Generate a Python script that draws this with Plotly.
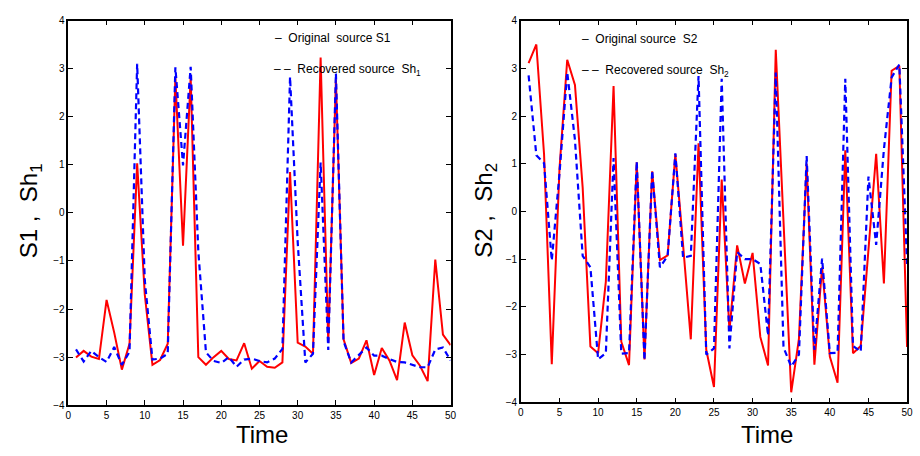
import plotly.graph_objects as go

t = list(range(1, 51))

s1 = [-3.01, -2.87, -2.99, -3.04, -1.81, -2.49, -3.26, -2.72, 1.03, -1.7,
      -3.16, -3.06, -2.72, 2.81, -0.68, 2.83, -3.0, -3.16, -3.0, -2.87,
      -3.04, -3.07, -2.71, -3.24, -3.08, -3.2, -3.22, -3.11, 0.85, -2.7,
      -2.78, -2.93, 3.23, -2.7, 2.78, -2.63, -3.12, -3.03, -2.65, -3.37,
      -2.81, -3.07, -3.48, -2.28, -2.96, -3.18, -3.5, -0.97, -2.53, -2.75]

sh1 = [-2.84, -3.09, -2.87, -3.0, -3.1, -2.79, -3.16, -2.89, 3.1, -1.4,
       -3.05, -3.03, -2.93, 3.03, 0.99, 3.04, -0.8, -2.9, -3.08, -3.12,
       -3.0, -3.2, -3.05, -3.03, -3.08, -3.11, -3.03, -2.83, 2.83, -0.6,
       -3.11, -2.93, 1.05, -2.85, 2.9, -2.67, -3.11, -2.96, -2.8, -2.97,
       -2.97, -3.04, -3.1, -3.11, -3.16, -3.21, -3.21, -2.84, -2.8, -3.07]

s2 = [3.11, 3.5, 1.2, -3.2, 0.9, 3.18, 2.65, 0.5, -2.83, -2.97,
      -1.47, 2.63, -2.73, -3.22, 1.03, -3.1, 0.84, -1.02, -0.92, 1.2,
      -0.7, -2.68, 1.43, -2.9, -3.68, 0.67, -2.5, -0.71, -1.51, -0.87,
      -2.63, -3.23, 3.39, -0.3, -3.79, -2.67, 1.0, -3.21, -1.17, -3.04,
      -3.59, 1.28, -2.97, -2.82, -0.8, 1.21, -1.51, 2.95, 3.05, -2.84]

sh2 = [2.85, 1.18, 1.01, -1.03, 0.8, 2.92, 1.5, -0.93, -1.17, -3.1,
       -2.97, 1.12, -2.98, -2.97, 1.05, -3.12, 0.86, -1.17, -0.93, 1.22,
       -0.97, -0.93, 2.84, -3.0, -2.87, 2.78, -2.87, -0.85, -1.0, -1.0,
       -1.1, -2.6, 2.91, -2.85, -3.25, -3.0, 1.16, -2.9, -0.99, -2.97,
       -2.96, 2.78, -2.82, -2.94, 0.73, -0.7, 1.3, 2.81, 3.08, -1.1]

x_ticks = list(range(0, 51, 5))
y_ticks = list(range(-4, 5))

RED = "rgb(255,0,0)"
BLUE = "rgb(0,0,255)"

fig = go.Figure()
fig.add_trace(go.Scatter(x=t, y=s1, mode="lines", line=dict(color=RED, width=2),
                         xaxis="x", yaxis="y", showlegend=False))
fig.add_trace(go.Scatter(x=t, y=sh1, mode="lines", line=dict(color=BLUE, width=2.2, dash="6px,4px"),
                         xaxis="x", yaxis="y", showlegend=False))
fig.add_trace(go.Scatter(x=t, y=s2, mode="lines", line=dict(color=RED, width=2),
                         xaxis="x2", yaxis="y2", showlegend=False))
fig.add_trace(go.Scatter(x=t, y=sh2, mode="lines", line=dict(color=BLUE, width=2.2, dash="6px,4px"),
                         xaxis="x2", yaxis="y2", showlegend=False))

W, H = 920, 456
tickfont = dict(family="Liberation Sans, Arial", size=10, color="black")

def xax(dom, anchor):
    return dict(domain=dom, anchor=anchor, range=[0, 50], tickvals=x_ticks,
                ticks="inside", ticklen=5, tickcolor="black", mirror="ticks",
                showline=True, linecolor="black", linewidth=1.5, showgrid=False,
                zeroline=False, tickfont=tickfont)

def yax(dom, anchor):
    return dict(domain=dom, anchor=anchor, range=[-4, 4], tickvals=y_ticks,
                ticks="inside", ticklen=5, tickcolor="black", mirror="ticks",
                showline=True, linecolor="black", linewidth=1.5, showgrid=False,
                zeroline=False, tickfont=tickfont)

fig.update_layout(
    width=W, height=H,
    margin=dict(l=0, r=0, t=0, b=0),
    paper_bgcolor="white", plot_bgcolor="white",
    xaxis=xax([66 / W, 452 / W], "y"),
    yaxis=yax([(H - 410) / H, (H - 15) / H], "x"),
    xaxis2=xax([523 / W, 913 / W], "y2"),
    yaxis2=yax([(H - 407) / H, (H - 15) / H], "x2"),
)

ann_font_big = dict(family="Liberation Sans, Arial", size=24, color="black")
ann_font_leg = dict(family="Liberation Sans, Arial", size=12, color="black")

anns = [
    dict(text="Time", x=262 / W, y=1 - 440 / H, font=ann_font_big),
    dict(text="Time", x=772 / W, y=1 - 440 / H, font=ann_font_big),
    dict(text="S1 ,  Sh<sub>1</sub>", x=28 / W, y=1 - 210 / H, textangle=-90, font=ann_font_big),
    dict(text="S2 ,  Sh<sub>2</sub>", x=487 / W, y=1 - 210 / H, textangle=-90, font=ann_font_big),
    dict(text="–  Original  source S1", x=273 / W, y=1 - 33 / H, xanchor="left", font=ann_font_leg),
    dict(text="– –  Recovered source  Sh<sub>1</sub>", x=272 / W, y=1 - 66 / H, xanchor="left", font=ann_font_leg),
    dict(text="–  Original source  S2", x=583 / W, y=1 - 34 / H, xanchor="left", font=ann_font_leg),
    dict(text="– –  Recovered source  Sh<sub>2</sub>", x=583 / W, y=1 - 67 / H, xanchor="left", font=ann_font_leg),
]
for a in anns:
    a.update(xref="paper", yref="paper", showarrow=False)
    if "xanchor" not in a:
        a["xanchor"] = "center"
    a["yanchor"] = "middle"
fig.update_layout(annotations=anns)

fig.write_html("out.html")
